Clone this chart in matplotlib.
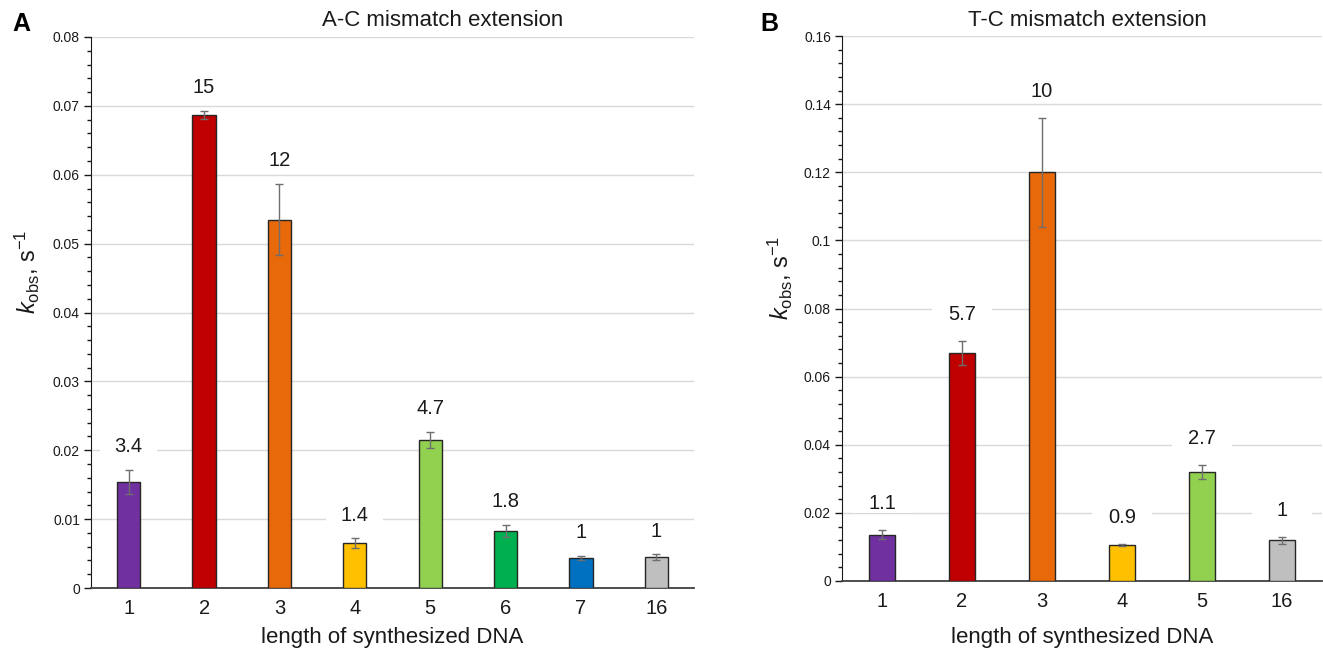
import numpy as np
import matplotlib
matplotlib.use('Agg')
import matplotlib.pyplot as plt
from matplotlib.patches import Rectangle
from matplotlib.ticker import MultipleLocator, FuncFormatter

plt.rcParams['font.family'] = ['Liberation Sans', 'DejaVu Sans']
plt.rcParams['mathtext.fontset'] = 'custom'
plt.rcParams['mathtext.rm'] = 'Liberation Sans'
plt.rcParams['mathtext.it'] = 'Liberation Sans:italic'

# panel A: A-C mismatch
cats_a = ['1', '2', '3', '4', '5', '6', '7', '16']
kobs_a = [0.0154, 0.0687, 0.0535, 0.0065, 0.0215, 0.0083, 0.0044, 0.0045]
err_a = [0.0018, 0.0006, 0.0052, 0.0007, 0.0012, 0.0009, 0.0003, 0.0004]
labels_a = ['3.4', '15', '12', '1.4', '4.7', '1.8', '1', '1']

# panel B: T-C mismatch
cats_b = ['1', '2', '3', '4', '5', '16']
kobs_b = [0.0136, 0.0670, 0.1200, 0.0106, 0.0320, 0.0119]
err_b = [0.0013, 0.0035, 0.0160, 0.0003, 0.0021, 0.0011]
labels_b = ['1.1', '5.7', '10', '0.9', '2.7', '1']

colors = {'1': '#7030A0', '2': '#C00000', '3': '#E8690A', '4': '#FFC000',
          '5': '#92D050', '6': '#00B050', '7': '#0070C0', '16': '#BFBFBF'}

W, H = 1323, 649
fig = plt.figure(figsize=(W / 100, H / 100), dpi=100)

def fx(px):
    return px / W

def fy(py):
    return 1 - py / H

ax_a = fig.add_axes([fx(91), fy(588), fx(694) - fx(91), fy(37) - fy(588)])
ax_b = fig.add_axes([fx(842), fy(581), fx(1322) - fx(842), fy(36) - fy(581)])


def draw_panel(ax, cats, vals, errs, labs, ymax, major, minor, width, off):
    x = np.arange(len(cats))
    ax.bar(x, vals, width=width, color=[colors[c] for c in cats],
           edgecolor='#262626', linewidth=1.0, zorder=3)
    ax.errorbar(x, vals, yerr=errs, fmt='none', ecolor='#6e6e6e',
                elinewidth=1.0, capsize=3, capthick=1.0, zorder=4)
    # white boxes behind the labels break the gridlines like in the original
    hh = 0.018 * ymax
    for xi, v, e, lab in zip(x, vals, errs, labs):
        yl = v + e + off
        ax.add_patch(Rectangle((xi - 0.38, yl - hh), 0.76, 2 * hh,
                               facecolor='white', edgecolor='none', zorder=2))
        ax.text(xi, yl, lab, ha='center', va='center', fontsize=14.5,
                color='#1a1a1a', zorder=5)
    ax.set_xlim(-0.5, len(cats) - 0.5)
    ax.set_ylim(0, ymax)
    ax.set_xticks(x)
    ax.set_xticklabels(cats, fontsize=14.5)
    ax.yaxis.set_major_locator(MultipleLocator(major))
    ax.yaxis.set_minor_locator(MultipleLocator(minor))
    ax.yaxis.set_major_formatter(FuncFormatter(lambda v, p: '{:g}'.format(round(v, 4))))
    ax.tick_params(axis='x', length=0, pad=8, colors='#1a1a1a')
    ax.tick_params(axis='y', which='major', length=5, width=1, labelsize=10,
                   colors='#1a1a1a', pad=3)
    ax.tick_params(axis='y', which='minor', length=3, width=1, colors='#1a1a1a')
    ax.grid(axis='y', which='major', color='#d9d9d9', linewidth=1.0, zorder=0)
    ax.set_axisbelow(True)
    for s in ['top', 'right']:
        ax.spines[s].set_visible(False)
    ax.spines['left'].set_color('#1a1a1a')
    ax.spines['bottom'].set_color('#404040')
    ax.spines['bottom'].set_linewidth(1.3)
    ax.set_xlabel('length of synthesized DNA', fontsize=16, color='#1a1a1a')
    ax.xaxis.label.set_va('center')


draw_panel(ax_a, cats_a, kobs_a, err_a, labels_a, 0.08, 0.01, 0.002, 0.31, 0.0033)
draw_panel(ax_b, cats_b, kobs_b, err_b, labels_b, 0.16, 0.02, 0.004, 0.32, 0.0078)

ax_a.xaxis.set_label_coords(0.5, -(637 - 588) / 551)
ax_b.xaxis.set_label_coords(0.5, -(637 - 581) / 545)

ylab = r'$\mathit{k}_{\mathrm{obs}}$, s$^{\mathrm{-1}}$'
fig.text(fx(27), fy(272), ylab, rotation=90, ha='center', va='center', fontsize=17, color='#1a1a1a')
fig.text(fx(780), fy(278), ylab, rotation=90, ha='center', va='center', fontsize=17, color='#1a1a1a')

fig.text(fx(443), fy(21), 'A-C mismatch extension', ha='center', va='center', fontsize=16, color='#1a1a1a')
fig.text(fx(1087), fy(21), 'T-C mismatch extension', ha='center', va='center', fontsize=16, color='#1a1a1a')

fig.text(fx(21), fy(24), 'A', ha='center', va='center', fontsize=18, fontweight='bold')
fig.text(fx(769), fy(24), 'B', ha='center', va='center', fontsize=18, fontweight='bold')

fig.savefig('out.png', dpi=100, facecolor='white')
